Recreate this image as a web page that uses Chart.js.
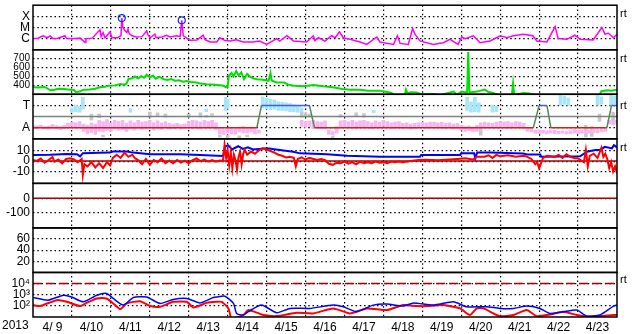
<!DOCTYPE html>
<html>
<head>
<meta charset="utf-8">
<script src="https://cdn.jsdelivr.net/npm/chart.js@4.4.1/dist/chart.umd.min.js"></script>
<style>
  html, body { margin: 0; padding: 0; background: #fff; }
  canvas { display: block; }
</style>
</head>
<body>
<canvas id="chart" width="633" height="334"></canvas>
<script>
// time axis: days since 2013-04-09 00:00 UT
const yearLabel = '2013';
const dayLabels = ['4/ 9','4/10','4/11','4/12','4/13','4/14','4/15','4/16','4/17','4/18','4/19','4/20','4/21','4/22','4/23'];
const dayCenters = [0.5,1.5,2.5,3.5,4.5,5.5,6.5,7.5,8.5,9.5,10.5,11.5,12.5,13.5,14.5];
const dayLines = [1,2,3,4,5,6,7,8,9,10,11,12,13,14];

// panel 1: X-ray flux (W/m2)
const xrayT = [0,0.13,0.26,0.36,0.44,0.51,0.64,0.82,0.87,
  1.08,1.21,1.34,1.36,1.52,1.72,1.75,1.80,1.85,1.98,
  2.03,2.18,2.26,2.28,2.31,2.36,2.41,2.44,2.47,2.54,2.66,2.80,2.92,2.95,
  3.01,3.13,3.16,3.31,3.43,3.52,3.69,3.78,3.82,3.86,3.93,
  4.03,4.21,4.37,4.42,4.55,4.72,4.80,4.93,
  5.06,5.22,5.40,5.66,5.82,
  6.00,6.26,6.34,6.52,6.69,
  7.03,7.20,7.24,7.33,7.50,7.67,7.76,7.87,7.97,
  8.14,8.40,8.57,8.83,8.91,
  9.26,9.36,9.43,9.64,9.75,9.81,9.94,
  10.28,10.54,10.71,10.92,
  11.01,11.10,11.31,11.48,11.74,
  12.00,12.17,12.34,12.59,12.84,12.94,
  13.20,13.41,13.49,13.71,13.92,
  14.05,14.39,14.61,14.69,14.78,14.91,15.00];
const xrayV = [1.0e-6,1.1e-6,1.8e-6,1.2e-6,1.7e-6,1.0e-6,1.1e-6,1.8e-6,1.0e-6,
  1.0e-6,1.1e-6,4.4e-7,1.0e-6,1.1e-6,6.2e-6,1.5e-6,3.5e-6,1.2e-6,4.1e-6,
  1.2e-6,1.2e-6,1.9e-6,7.0e-5,1.0e-5,5.3e-6,3.5e-6,7.0e-6,2.8e-6,1.8e-6,1.4e-6,1.5e-6,5.0e-6,2.3e-6,
  1.2e-6,2.5e-6,1.2e-6,1.4e-6,2.0e-6,1.4e-6,1.8e-6,1.5e-6,4.4e-5,1.8e-6,1.2e-6,
  7.0e-7,7.3e-7,2.0e-6,8.0e-7,5.0e-7,5.0e-7,1.2e-6,6.6e-7,
  6.2e-7,8.0e-7,5.0e-7,5.0e-7,6.0e-7,
  3.0e-7,1.0e-6,5.9e-7,1.8e-6,6.2e-7,
  5.0e-7,1.8e-6,6.6e-7,1.2e-6,5.9e-7,1.8e-6,1.2e-6,4.1e-6,1.2e-6,
  8.6e-7,5.0e-7,3.0e-7,1.4e-6,5.0e-7,
  3.0e-7,1.8e-6,3.7e-7,3.0e-7,8.0e-6,2.5e-6,6.2e-7,
  3.0e-7,4.3e-7,8.6e-7,3.0e-7,
  1.4e-6,1.0e-6,1.8e-6,4.3e-7,6.2e-7,
  1.8e-6,1.2e-6,1.8e-6,2.5e-6,1.8e-6,6.2e-7,
  5.0e-7,1.2e-5,1.0e-6,8.6e-7,2.0e-6,
  8.6e-7,7.6e-7,1.0e-5,2.5e-6,3.0e-6,1.2e-6,2.5e-6];
const flareT = [2.28, 3.82];
const flareV = [7.0e-5, 4.4e-5];
const xrayTicks = [1e-6, 1e-5, 1e-4];
const xrayLabels = ['C', 'M', 'X'];

// panel 2: solar wind speed (km/s)
const windT = [0.00,0.15,0.30,0.45,0.55,0.65,0.80,0.95,
  1.05,1.10,1.20,1.30,1.45,1.60,1.72,1.85,1.95,
  2.10,2.25,2.35,2.40,2.45,2.55,2.62,2.70,2.78,2.85,2.92,
  3.00,3.08,3.15,3.25,3.35,3.45,3.55,3.65,3.75,3.85,3.95,
  4.05,4.20,4.30,4.45,4.60,4.75,4.90,4.95,
  5.00,5.03,5.10,5.15,5.22,5.28,5.35,5.42,5.50,5.58,5.65,5.75,5.90,
  6.05,6.10,6.13,6.25,6.45,6.55,6.70,6.90,
  7.05,7.20,7.45,7.70,7.95,
  8.15,8.40,8.60,8.90,
  9.10,9.20,9.30,9.55,9.58,9.62,9.70,9.85,
  10.00,10.30,10.45,10.80,10.90,
  11.00,11.15,11.18,11.21,11.40,11.60,11.70,11.80,11.95,
  12.30,12.33,12.36,12.60,12.75,12.90,
  14.55,14.60,14.75,14.85,15.00];
const windV = [380,375,382,345,350,362,358,352,
  348,325,330,352,355,362,378,385,397,
  400,414,408,418,470,480,500,478,505,485,520,
  490,510,475,495,470,460,470,452,458,441,448,
  438,433,420,414,410,403,395,378,
  385,505,540,500,560,510,545,470,530,495,480,470,463,
  452,537,455,433,433,410,397,389,
  395,403,389,378,360,
  352,352,341,341,
  325,315,290,290,352,310,322,320,
  295,303,290,330,295,
  330,320,774,320,330,352,325,318,292,
  292,422,292,315,310,290,
  290,335,345,341,352];
const windTicks = [400, 500, 600, 700];

// panel 3: IMF direction (deg) and sector (A / T)
const phiTicks = [90, 270];
const phiLabels = ['A', 'T'];
const refT = [0, 15];
const phiMid = [180, 180];
const sectorT = [0,5.75,5.87,7.10,7.23,12.85,13.0,13.2,13.3,14.74,14.86,15];
const sectorV = [90,90,270,270,90,90,270,270,90,90,270,270];
const pinkT = [0,0.1,0.2,0.3,0.4,0.5,0.6,0.7,0.8,0.9,
  1.0,1.1,1.2,1.3,1.4,1.5,1.6,1.7,1.8,1.9,
  2.0,2.1,2.2,2.3,2.4,2.5,2.6,2.7,2.8,2.9,
  3.0,3.1,3.2,3.3,3.4,3.5,3.6,3.7,3.8,3.9,
  4.0,4.1,4.2,4.3,4.4,4.5,4.6,4.7,4.8,4.9,
  5.0,5.1,5.2,5.3,5.4,5.5,5.6,5.7,5.8,
  6.9,
  7.0,7.1,7.2,7.3,7.4,7.5,7.6,7.7,7.8,7.9,
  8.0,8.1,8.2,8.3,8.4,8.5,8.6,8.7,8.8,8.9,
  9.0,9.1,9.2,9.3,9.4,9.5,9.6,9.7,9.8,9.9,
  10.0,10.1,10.2,10.3,10.4,10.5,10.6,10.7,10.8,10.9,
  11.0,11.1,11.2,11.3,11.4,11.5,11.6,11.7,11.8,11.9,
  12.0,12.1,12.2,12.3,12.4,12.5,12.6,12.7,12.8,12.9,
  13.0,13.1,13.2,13.3,13.4,13.5,13.6,13.7,13.8,13.9,
  14.0,14.1,14.2,14.3,14.4,14.5,14.6,14.7,14.8,14.9,
  15.0];
const pinkLo = [85,80,88,82,78,85,80,75,82,95,
  100,95,100,60,40,50,35,60,55,70,
  60,80,70,75,60,80,70,85,75,80,
  90,70,85,75,90,80,85,90,80,85,
  90,85,95,80,100,90,95,75,40,35,
  45,40,35,55,50,45,55,40,45,
  100,
  95,100,85,90,80,85,35,30,45,90,
  95,90,100,85,95,90,100,85,95,90,
  100,95,85,90,95,85,90,80,85,90,
  95,90,95,100,90,95,85,90,80,85,
  70,60,65,55,60,90,95,100,90,95,
  90,100,95,90,100,95,85,60,55,45,
  42,45,40,45,42,40,45,40,42,45,
  42,45,40,45,50,48,55,60,120,115,
  120];
const pinkHi = [110,105,112,100,104,115,108,100,110,125,
  136,130,140,120,110,130,120,150,140,155,
  130,150,140,150,125,145,130,150,135,140,
  150,130,145,130,140,125,120,125,115,120,
  140,150,145,135,150,140,150,130,80,75,
  90,85,80,95,100,90,95,80,70,
  150,
  140,145,150,140,135,145,70,60,100,145,
  150,140,150,135,145,150,140,130,145,135,
  150,140,130,135,140,125,130,120,125,130,
  135,130,135,135,130,135,125,130,120,125,
  110,100,105,95,110,130,135,130,125,135,
  140,135,140,130,140,135,125,90,85,70,
  72,70,65,70,68,60,62,58,65,75,
  70,72,68,70,80,75,80,90,150,145,
  150];
const cyanT = [1.0,1.1,1.2,1.28,2.5,4.45,4.95,5.0,5.9,6.0,6.1,6.2,6.3,6.4,6.5,6.6,6.7,6.8,6.9,8.75,11.15,11.25,11.35,11.45,11.8,11.9,13.55,13.65,13.75,14.5,14.6,14.85,14.95];
const cyanLo = [216,220,216,240,216,220,230,250,250,240,235,240,230,230,225,220,220,215,216,210,230,216,220,216,216,220,272,280,272,272,280,272,280];
const cyanHi = [250,272,260,336,245,240,336,320,340,330,320,315,300,295,290,285,275,265,250,230,336,300,336,290,272,260,350,345,330,350,340,350,345];
const grayT = [1.5,1.7,1.8,3.0,3.2,3.4,4.0,4.3,4.45,4.6,4.8,5.0,5.3,5.5,6.9,7.0,7.1,7.7,7.9,8.3,8.5,11.5,14.2,14.35,14.55,14.9];
const grayLo = [150,170,16,176,180,176,176,176,176,190,16,10,10,16,176,180,176,10,176,180,176,30,16,20,140,130];
const grayHi = [200,200,30,216,210,200,200,210,190,205,30,30,25,30,215,210,200,20,195,210,205,110,110,100,200,216];

// panel 4: IMF Bt and Bz (nT)
const bzTicks = [-10, 0, 10];
const bzZero = [0, 0];
const btT = [0,0.44,0.87,1.13,1.21,1.28,1.72,1.98,2.05,2.41,
  2.57,3.01,3.78,4.29,4.88,4.93,5.01,5.11,5.27,5.39,
  5.52,5.65,6.01,6.34,6.68,6.86,7.55,8.07,8.91,9.94,
  9.97,10.97,11.0,11.33,11.36,11.41,11.74,12.59,12.69,13.03,
  13.05,14.05,14.23,14.44,14.56,14.69,14.87,14.92,15.0];
const btV = [5.8,6.0,6.7,6.5,4.5,7.5,7.8,8.0,9.0,9.0,
  8.0,6.5,6.5,5.8,4.9,13.5,15,11,14,11.5,
  13,11,12,10.5,8.9,7.3,6.4,5.1,4.2,4.2,
  5.8,5.8,7.3,7.3,2.6,8.2,8.2,7.2,6.3,6.3,
  4.2,4.5,8.9,10.5,10.5,13.5,12,15,13];
const bzT = [0,0.1,0.2,0.3,0.4,0.5,0.55,0.65,0.75,0.85,0.95,
  1.05,1.15,1.25,1.28,1.32,1.4,1.5,1.6,1.7,1.8,1.9,1.98,
  2.05,2.15,2.25,2.35,2.45,2.55,2.62,2.7,2.8,2.9,
  3.0,3.1,3.2,3.3,3.4,3.5,3.6,3.7,3.8,3.9,
  4.0,4.1,4.2,4.3,4.4,4.5,4.6,4.7,4.8,4.88,4.92,4.96,
  5.0,5.04,5.08,5.12,5.16,5.2,5.24,5.28,5.32,5.36,5.4,5.44,5.5,5.6,5.7,5.8,5.9,
  6.0,6.1,6.2,6.3,6.4,6.5,6.6,6.7,6.75,6.8,6.9,
  7.0,7.1,7.2,7.3,7.4,7.5,7.6,7.7,7.8,7.9,
  8.0,8.1,8.2,8.3,8.4,8.5,8.6,8.7,8.8,8.9,
  9.0,9.1,9.2,9.3,9.4,9.5,9.7,9.9,
  10.1,10.4,10.7,10.9,
  11.1,11.3,11.4,11.6,11.7,11.8,11.9,
  12.0,12.2,12.4,12.6,12.7,12.8,12.9,12.95,
  13.0,13.05,13.1,13.2,13.4,13.5,13.6,13.7,13.8,13.9,
  14.0,14.1,14.15,14.2,14.25,14.3,14.4,14.5,14.6,14.65,14.7,14.75,14.8,14.85,14.9,14.95,15.0];
const bzV = [1.1,0.2,2.5,-1.5,1,3.8,-0.5,1.5,-2,2,2.6,
  1.5,-1,2,-13,-3,-5,-1,-6,-2,-6.5,-1,-4,
  3,6,3,8,4,6,2.6,1,-3,2,
  -3.5,1,-1,2.5,-2,0.5,-2,1,-1.5,0.5,
  -2,1,2.6,0,1.5,-0.5,1,-0.5,0.5,0,15,3,
  10,-4,8,-6.7,6,1,-8,4,9,-3,7,10.5,6,9,7,10,12,
  11,9.5,8,6,5,3.5,4,3,-5,2,3.5,
  1.5,3,2,1,2,1,-2.5,-3.5,-1.5,-2,
  -0.5,-2.5,-1,-3,-0.5,-2,-1,-2,-0.5,-1.5,
  -1,-2,-0.5,-1,-0.5,-1,0,1,
  1.2,0.8,1.5,2,
  2.6,1.5,4,4.2,5.5,3,5.8,
  4.5,5.5,4.2,5,4,2,-3,-1,
  -6.7,-2,3,5,4,5.8,3,6.5,4,3,
  2.6,0,-1,10.5,-5,5,7,3,12.6,4,7,2,-6.7,-1,-9.8,-5,-11.4];

// panel 5: Dst (nT), panel 6: no data
const dstTicks = [-100, 0];
const dstZero = [0, 0];
const p6Ticks = [20, 40, 60];

// panel 7: electron flux
const eTicks = [1e2, 1e3, 1e4];
const eLabels = ['10\u00b2', '10\u00b3', '10\u2074'];
const eLimit = [1e4, 1e4];
const eHiT = [0,0.39,0.78,0.99,1.29,1.64,1.89,2.06,2.32,2.58,
  2.92,3.26,3.60,3.95,4.29,4.63,4.72,4.93,5.15,5.23,
  5.40,5.53,5.87,6.26,6.60,7.11,7.71,7.97,8.31,8.74,
  9.09,9.51,9.77,10.28,10.80,11.14,11.65,11.99,12.34,12.68,
  13.02,13.28,13.62,13.97,14.22,14.56,14.91,15.0];
const eHiV = [560,325,910,630,230,910,1290,460,117,560,
  630,165,375,460,185,560,630,740,165,21,
  15,30,117,24,59,59,117,83,30,117,
  145,96,185,117,230,83,83,59,59,96,
  59,21,30,42,12,15,96,117];
const eLoT = [0,0.18,0.61,0.87,1.21,1.38,1.64,1.89,2.11,2.24,
  2.41,2.75,3.01,3.26,3.60,3.95,4.12,4.46,4.72,4.85,
  5.02,5.10,5.40,5.53,5.92,6.26,6.77,7.20,7.71,8.14,
  8.57,9.09,9.51,9.86,10.11,10.54,10.97,11.22,11.40,11.57,
  11.99,12.34,12.68,12.94,13.28,13.62,13.97,14.22,14.56,14.91,
  15.0];
const eLoV = [117,96,325,230,96,185,460,460,117,51,
  165,260,96,83,230,230,72,185,230,230,
  59,8,15,42,15,12,24,21,59,21,
  59,42,117,96,96,117,59,15,59,59,
  12,15,42,12,17,30,15,11,12,15,
  15];

const panelIds = ['yX', 'yW', 'yP', 'yB', 'yD', 'yK', 'yE'];
const rtPanels = ['yX', 'yW', 'yP', 'yB', 'yE'];
const rtOffset = [9, 9, 12, 9, 8];

const FONT = "'Liberation Sans', Arial, sans-serif";
Chart.defaults.font.family = FONT;
Chart.defaults.color = '#000';

const pts = (t, v) => t.map((x, i) => ({ x: x, y: v[i] }));
const rng = (t, lo, hi) => t.map((x, i) => ({ x: x, y: [lo[i], hi[i]] }));
const DOTS = [1.5, 2.8];

function panel(extra, tickVals, labels, font) {
  return Object.assign({
    position: 'left',
    stack: 'panels',
    stackWeight: 1,
    border: { display: false, dash: DOTS },
    grid: { color: '#000', lineWidth: 1.2, drawTicks: false, borderDash: DOTS },
    ticks: {
      color: '#000', padding: 3, autoSkip: false,
      font: font || { size: 12 },
      callback: (v, i) => labels ? labels[i] : String(v)
    },
    afterBuildTicks: s => { s.ticks = tickVals.map(v => ({ value: v })); },
    afterFit: s => { s.width = 33; s.paddingTop = 0; s.paddingBottom = 0; }
  }, extra);
}

const line = (label, axis, data, color, width, extra) => Object.assign({
  type: 'line', label: label, yAxisID: axis, data: data,
  borderColor: color, borderWidth: width, pointRadius: 0, fill: false, tension: 0
}, extra || {});
const bars = (label, axis, data, color) => ({
  type: 'bar', label: label, yAxisID: axis, data: data,
  backgroundColor: color, borderWidth: 0, barThickness: 3, grouped: false, order: 5
});

const framePlugin = {
  id: 'frames',
  afterDraw(chart) {
    const ctx = chart.ctx, a = chart.chartArea;
    ctx.save();
    ctx.strokeStyle = '#000';
    ctx.lineWidth = 1.5;
    panelIds.forEach(id => {
      const s = chart.scales[id];
      ctx.strokeRect(a.left, s.top, a.right - a.left, s.bottom - s.top);
    });
    ctx.fillStyle = '#000';
    ctx.font = '12px ' + FONT;
    ctx.textBaseline = 'top';
    const xs = chart.scales.xl;
    ctx.fillText(yearLabel, 2, xs.top + 3);
    ctx.textBaseline = 'middle';
    ctx.font = '11px ' + FONT;
    rtPanels.forEach((id, i) => {
      ctx.fillText('rt', a.right + 3, chart.scales[id].top + rtOffset[i]);
    });
    ctx.restore();
  }
};

new Chart(document.getElementById('chart'), {
  type: 'line',
  data: {
    datasets: [
      // panel 1
      line('flares', 'yX', pts(flareT, flareV), '#1030e0', 1.2,
        { showLine: false, pointRadius: 3.5, pointBorderWidth: 1.2, pointBackgroundColor: 'rgba(0,0,0,0)', pointBorderColor: '#1030e0', order: 0 }),
      line('xray', 'yX', pts(xrayT, xrayV), '#ff00ff', 1.5, { order: 1 }),
      // panel 2
      line('wind', 'yW', pts(windT, windV), '#00e000', 2, { order: 1 }),
      // panel 3
      line('sector', 'yP', pts(sectorT, sectorV), '#d02020', 1.5, {
        order: 0,
        segment: {
          borderColor: c => c.p0.parsed.y !== c.p1.parsed.y ? '#4f8a4f' : (c.p0.parsed.y > 180 ? '#3f5fe0' : '#d02020')
        }
      }),
      line('mid', 'yP', pts(refT, phiMid), '#808080', 1.5, { order: 2 }),
      bars('phiA', 'yP', rng(pinkT, pinkLo, pinkHi), '#f6b6f2'),
      bars('phiT', 'yP', rng(cyanT, cyanLo, cyanHi), '#a6e6f8'),
      bars('phiX', 'yP', rng(grayT, grayLo, grayHi), '#c8c8c8'),
      // panel 4
      line('bz', 'yB', pts(bzT, bzV), '#ff0000', 2, { order: 1 }),
      line('bt', 'yB', pts(btT, btV), '#0000ff', 2, { order: 2 }),
      line('bzZero', 'yB', pts(refT, bzZero), '#a80000', 1.5, { order: 3 }),
      // panel 5
      line('dstZero', 'yD', pts(refT, dstZero), '#a80000', 1.5, { order: 3 }),
      // panel 7
      line('eLimit', 'yE', pts(refT, eLimit), '#a80000', 1.5, { borderDash: [9, 4], order: 3 }),
      line('eHi', 'yE', pts(eHiT, eHiV), '#0000ff', 1.5, { order: 1, tension: 0.2 }),
      line('eLo', 'yE', pts(eLoT, eLoV), '#ff0000', 2, { order: 2, tension: 0.2 })
    ]
  },
  options: {
    responsive: false,
    devicePixelRatio: 1,
    animation: false,
    events: [],
    layout: { padding: { top: 3, right: 16, left: 0, bottom: 0 } },
    plugins: { legend: { display: false }, tooltip: { enabled: false } },
    scales: {
      x: {
        type: 'linear', min: 0, max: 15, position: 'bottom', offset: false,
        border: { display: false, dash: DOTS },
        grid: { color: '#000', lineWidth: 1.2, drawTicks: false, borderDash: DOTS, offset: false },
        ticks: { display: false },
        afterBuildTicks: s => { s.ticks = dayLines.map(v => ({ value: v })); },
        afterFit: s => { s.height = 0; s.paddingLeft = 0; s.paddingRight = 0; }
      },
      xl: {
        type: 'linear', min: 0, max: 15, position: 'bottom', offset: false,
        border: { display: false },
        grid: { display: false, drawTicks: false, offset: false },
        ticks: { color: '#000', autoSkip: false, maxRotation: 0, padding: 3, font: { size: 12 },
          callback: (v, i) => dayLabels[i] },
        afterBuildTicks: s => { s.ticks = dayCenters.map(v => ({ value: v })); },
        afterFit: s => { s.height = 17; s.paddingLeft = 0; s.paddingRight = 0; }
      },
      // stacked panels, defined bottom to top
      yE: panel({ type: 'logarithmic', min: 10, max: 1e5 }, eTicks, eLabels),
      yK: panel({ type: 'linear', min: 0, max: 80 }, p6Ticks),
      yD: panel({ type: 'linear', min: -200, max: 100 }, dstTicks),
      yB: panel({ type: 'linear', min: -21, max: 21 }, bzTicks),
      yP: panel({ type: 'linear', min: 0, max: 360 }, phiTicks, phiLabels),
      yW: panel({ type: 'linear', min: 300, max: 800 }, windTicks, null,
        { family: "'Liberation Sans Narrow', 'Liberation Sans', sans-serif", size: 10 }),
      yX: panel({ type: 'logarithmic', min: 1e-7, max: 1e-3 }, xrayTicks, xrayLabels)
    }
  },
  plugins: [framePlugin]
});
</script>
</body>
</html>
